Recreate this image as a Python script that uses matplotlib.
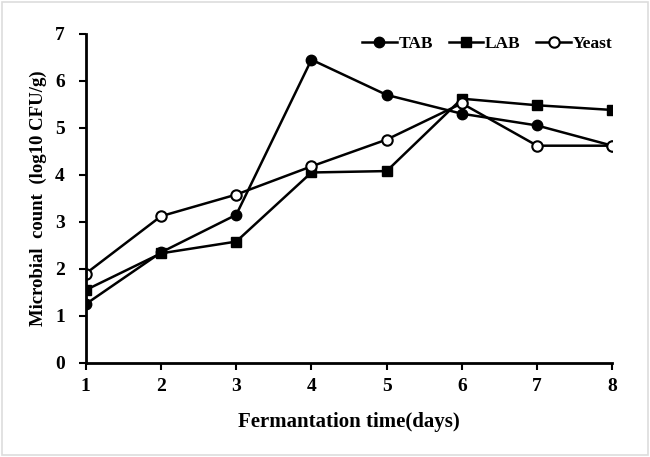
import matplotlib.pyplot as plt
from matplotlib.patches import Rectangle

plt.rcParams['font.family'] = ['Liberation Serif', 'DejaVu Serif']
plt.rcParams['font.weight'] = 'bold'

# Datos
days = [1, 2, 3, 4, 5, 6, 7, 8]
tab = [1.25, 2.35, 3.15, 6.45, 5.70, 5.30, 5.05, 4.62]
lab = [1.55, 2.33, 2.58, 4.05, 4.08, 5.62, 5.48, 5.38]
yeast = [1.90, 3.12, 3.58, 4.18, 4.75, 5.52, 4.62, 4.62]

fig = plt.figure(figsize=(6.5, 4.57), dpi=100)
ax = fig.add_axes([0.132, 0.206, 0.810, 0.720])

ax.plot(days, tab, '-o', color='black', lw=1.8, ms=7.5, label='TAB')
ax.plot(days, lab, '-s', color='black', lw=1.8, ms=7.5, label='LAB')
ax.plot(days, yeast, '-o', color='black', mfc='white', mew=1.5, lw=1.8, ms=7.5, label='Yeast')

ax.set_xlim(1, 8)
ax.set_ylim(0, 7)
ax.set_xticks(days)
ax.set_yticks(range(0, 8))
ax.spines['top'].set_visible(False)
ax.spines['right'].set_visible(False)
ax.spines['left'].set_linewidth(2)
ax.spines['bottom'].set_linewidth(2)
ax.tick_params(direction='out', width=1.5, length=5, labelsize=14)
ax.tick_params(axis='y', pad=10)
ax.tick_params(axis='x', pad=6)

ax.set_xlabel('Fermantation time(days)', fontsize=15, fontweight='bold', labelpad=12)
ax.set_ylabel('Microbial  count  (log10 CFU/g)', fontsize=13.5, fontweight='bold', labelpad=6)

ax.legend(loc='upper right', ncol=3, frameon=False, fontsize=12.5, handlelength=2.0,
          handletextpad=0.1, columnspacing=0.9, bbox_to_anchor=(1.03, 1.04))

fig.patches.append(Rectangle((0.003, 0.004), 0.994, 0.992, transform=fig.transFigure,
                             fill=False, edgecolor='#dddddd', lw=1.2))

fig.savefig('out.png', dpi=100)
